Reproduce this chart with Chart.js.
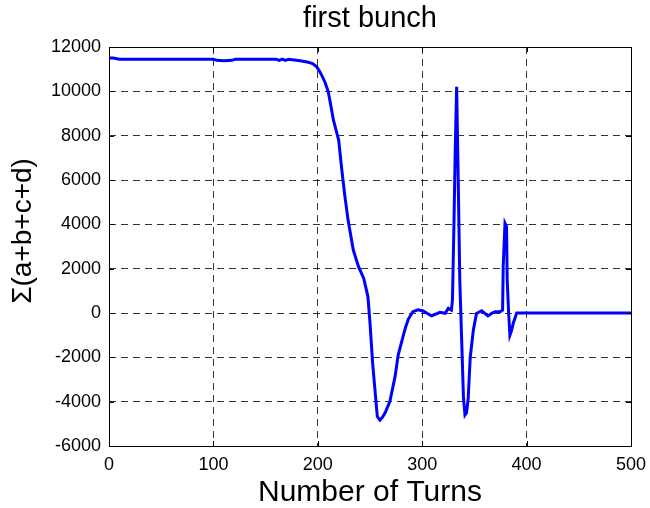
<!DOCTYPE html>
<html>
<head>
<meta charset="utf-8">
<script src="https://cdn.jsdelivr.net/npm/chart.js@4"></script>
<style>
    html, body { margin: 0; padding: 0; background: #fff; }
    #wrap { width: 650px; height: 508px; }
</style>
</head>
<body>
<div id="wrap"><canvas id="lineChart"></canvas></div>
<script>
// 読み取った値（ターン数 と Σ(a+b+c+d)）
const turns = [
    0, 4, 10, 50, 100, 103, 110, 118, 121, 160, 163, 166, 169, 172, 183, 190,
    195, 199, 203, 207, 210, 212, 215, 220, 223, 226, 229, 234, 239, 244, 248,
    250, 252.5, 255, 257, 259.5, 262, 264.5, 269, 274, 277, 282, 284, 287, 291,
    296, 301, 305, 309, 313, 317, 322, 325, 328, 329, 330.5, 331.7, 333, 334.5,
    336, 338, 339.5, 341, 342.5, 344, 346, 349, 352, 357, 363, 367, 370, 374.5,
    377, 377.6, 379.3, 380.8, 381.4, 382.8, 384, 385.5, 387.3, 390.5, 392, 450, 500
];
const sumABCD = [
    11500, 11500, 11450, 11450, 11450, 11400, 11380, 11400, 11450, 11450, 11400,
    11450, 11400, 11450, 11380, 11320, 11250, 11110, 10800, 10400, 9980, 9480,
    8700, 7800, 6450, 5250, 4190, 2840, 2090, 1560, 740, -450, -2250, -3600,
    -4670, -4830, -4700, -4500, -4000, -2870, -1900, -1000, -650, -250, 60, 140,
    90, -20, -130, -50, 30, -15, 210, 130, 600, 4200, 7500, 10200, 6000, 1500,
    -1500, -3800, -4600, -4500, -3900, -2000, -770, -20, 100, -130, 0, 60, 60,
    130, 2100, 4050, 3900, 1500, 0, -1000, -800, -450, 0, 0, 0, 0
];
const xTicks = [0, 100, 200, 300, 400, 500];
const yTicks = [-6000, -4000, -2000, 0, 2000, 4000, 6000, 8000, 10000, 12000];
const titleText = "first bunch";
const xTitle = "Number of Turns";
const yTitle = "\u00a0\u00a0\u00a0\u00a0Σ(a+b+c+d)";

const fontFamily = "'Liberation Sans', Arial, Helvetica, sans-serif";

// 枠線と内向きの目盛り線
const boxPlugin = {
    id: "box",
    afterDraw(chart) {
        const { ctx, chartArea: a, scales } = chart;
        ctx.save();
        ctx.setLineDash([]);
        ctx.strokeStyle = "#000";
        ctx.lineWidth = 1;
        ctx.strokeRect(a.left + 0.5, a.top + 0.5, a.right - a.left, a.bottom - a.top);
        const len = 5;
        ctx.beginPath();
        xTicks.forEach((v) => {
            const px = Math.round(scales.x.getPixelForValue(v)) + 0.5;
            ctx.moveTo(px, a.bottom);
            ctx.lineTo(px, a.bottom - len);
            ctx.moveTo(px, a.top);
            ctx.lineTo(px, a.top + len);
        });
        yTicks.forEach((v) => {
            const py = Math.round(scales.y.getPixelForValue(v)) + 0.5;
            ctx.moveTo(a.left, py);
            ctx.lineTo(a.left + len, py);
            ctx.moveTo(a.right, py);
            ctx.lineTo(a.right - len, py);
        });
        ctx.stroke();
        ctx.restore();
    },
};

document.addEventListener("DOMContentLoaded", () => {
    const ctx = document.getElementById("lineChart").getContext("2d");
    new Chart(ctx, {
        type: "line",
        data: {
            datasets: [
                {
                    label: "first bunch",
                    data: turns.map((t, i) => ({ x: t, y: sumABCD[i] })),
                    borderColor: "#0000ff",
                    borderWidth: 3,
                    pointRadius: 0,
                    fill: false,
                    tension: 0,
                },
            ],
        },
        options: {
            responsive: true,
            maintainAspectRatio: false,
            animation: false,
            layout: { padding: { left: 0, right: 19, top: 0, bottom: 0 } },
            plugins: {
                legend: { display: false },
                tooltip: { enabled: false },
                title: {
                    display: true,
                    text: titleText,
                    fullSize: false,
                    color: "#000",
                    font: { family: fontFamily, size: 29, weight: "normal", lineHeight: 1.2 },
                    padding: { top: 2, bottom: 10.2 },
                },
            },
            scales: {
                x: {
                    type: "linear",
                    min: 0,
                    max: 500,
                    afterFit: (s) => {
                        s.height = 62;
                        s.paddingLeft = 0;
                        s.paddingRight = 0;
                    },
                    afterBuildTicks: (s) => { s.ticks = xTicks.map((v) => ({ value: v })); },
                    grid: { color: "#000", lineWidth: 0.8, drawTicks: false },
                    border: { display: false, dash: [7, 5] },
                    ticks: {
                        color: "#000",
                        padding: 8,
                        maxRotation: 0,
                        font: { family: fontFamily, size: 18 },
                        callback: (v) => String(v),
                    },
                    title: {
                        display: true,
                        text: xTitle,
                        color: "#000",
                        font: { family: fontFamily, size: 30, lineHeight: 1 },
                        padding: { top: 0, bottom: 0 },
                    },
                },
                y: {
                    min: -6000,
                    max: 12000,
                    afterFit: (s) => {
                        s.width = 109;
                        s.paddingTop = 0;
                        s.paddingBottom = 0;
                    },
                    afterBuildTicks: (s) => { s.ticks = yTicks.map((v) => ({ value: v })); },
                    grid: { color: "#000", lineWidth: 0.8, drawTicks: false },
                    border: { display: false, dash: [7, 5] },
                    ticks: {
                        color: "#000",
                        padding: 8,
                        font: { family: fontFamily, size: 18 },
                        callback: (v) => String(v),
                    },
                    title: {
                        display: true,
                        text: yTitle,
                        color: "#000",
                        font: { family: fontFamily, size: 28, lineHeight: 1 },
                        padding: { top: 9, bottom: 0 },
                    },
                },
            },
        },
        plugins: [boxPlugin],
    });
});
</script>
</body>
</html>
